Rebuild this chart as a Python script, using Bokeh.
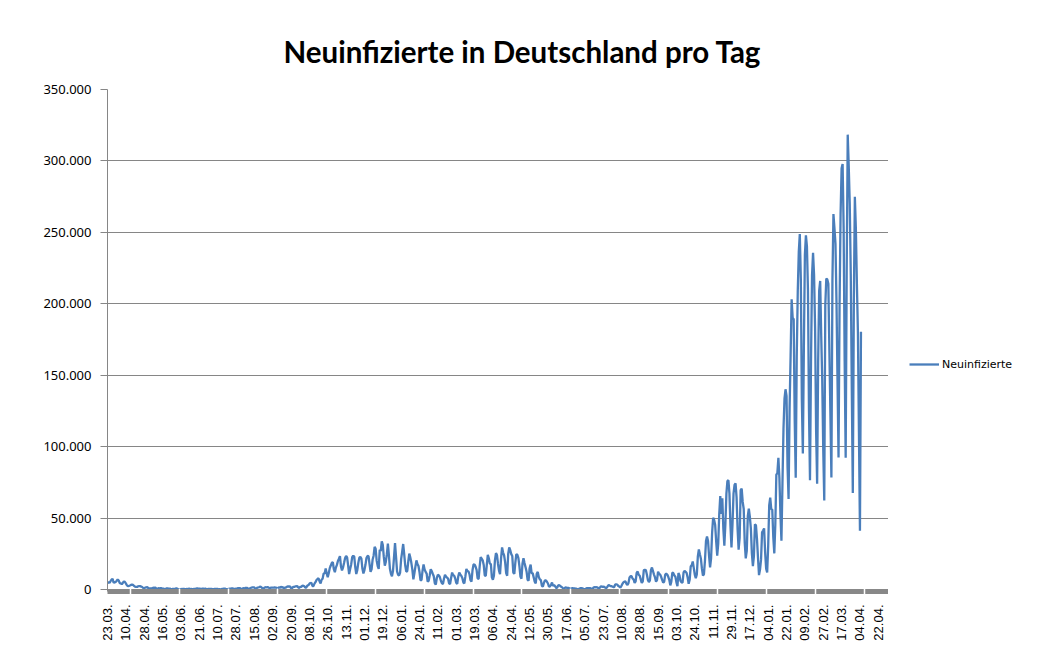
from math import pi
from bokeh.plotting import figure
from bokeh.layouts import row
from bokeh.models import Range1d, FixedTicker, Legend
from bokeh.embed import file_html
from bokeh.resources import INLINE

title_text = "Neuinfizierte in Deutschland pro Tag"
series_name = "Neuinfizierte"

x_labels = ["23.03.", "10.04.", "28.04.", "16.05.", "03.06.", "21.06.", "10.07.", "28.07.",
            "15.08.", "02.09.", "20.09.", "08.10.", "26.10.", "13.11.", "01.12.", "19.12.",
            "06.01.", "24.01.", "11.02.", "01.03.", "19.03.", "06.04.", "24.04.", "12.05.",
            "30.05.", "17.06.", "05.07.", "23.07.", "10.08.", "28.08.", "15.09.", "03.10.",
            "24.10.", "11.11.", "29.11.", "17.12.", "04.01.", "22.01.", "09.02.", "27.02.",
            "17.03.", "04.04.", "22.04."]
x_label_step = 18

y_ticks = [0, 50000, 100000, 150000, 200000, 250000, 300000, 350000]
y_tick_labels = ["0", "50.000", "100.000", "150.000", "200.000", "250.000", "300.000", "350.000"]

# 23.03.2020 - 27.12.2020 (one value per day, Monday first)
werte_2020 = [
    4500, 5200, 4600, 5800, 6900, 7500, 4700,
    5000, 5300, 6100, 7000, 6300, 4500, 4300,
    3700, 4600, 5600, 5300, 4300, 3000, 2300,
    2500, 2800, 3200, 3400, 3200, 2600, 2000,
    1775, 1785, 2237, 2352, 2337, 2055, 1737,
    1018, 1144, 1304, 1478, 1639, 945, 793,
    697, 685, 947, 1284, 1209, 1251, 667,
    357, 933, 798, 933, 913, 620, 583,
    342, 513, 797, 745, 460, 638, 431,
    289, 432, 362, 353, 741, 738, 286,
    333, 213, 342, 285, 394, 407, 301,
    214, 350, 318, 555, 301, 348, 247,
    192, 378, 345, 580, 770, 601, 687,
    537, 503, 587, 630, 477, 687, 256,
    262, 466, 503, 446, 422, 239,
    298, 397, 442, 395, 378, 159, 248,
    159, 352, 412, 534, 583, 395, 252,
    215, 454, 569, 569, 815, 781, 305,
    340, 633, 684, 902, 870, 955, 240,
    509, 879, 741, 1045, 1147, 1122, 555,
    436, 966, 1226, 1445, 1449, 1415, 625,
    561, 1390, 1510, 1707, 2034, 1427, 782,
    711, 1278, 1576, 1507, 1571, 1479, 610,
    1218, 1256, 1334, 1311, 1453, 1378, 988,
    814, 1499, 1176, 1892, 1484, 1630, 630,
    1336, 1407, 1901, 2194, 1916, 2297, 941,
    922, 1769, 1769, 2143, 2153, 2507, 1411,
    1192, 1798, 1798, 2503, 2673, 2292, 1382,
    1382, 2828, 2828, 4058, 4516, 4721, 2467,
    2467, 4122, 5132, 6638, 7334, 7830, 5587,
    4325, 6868, 7595, 11287, 11242, 14714, 11176,
    8685, 11409, 14964, 16774, 18681, 19059, 14177,
    12097, 15352, 17214, 19990, 21506, 23399, 16017,
    13363, 15332, 18487, 21866, 23542, 22461, 16947,
    10824, 14419, 17561, 22609, 23648, 22964, 15741,
    10864, 13554, 18633, 22268, 22806, 21695, 14611,
    11169, 13604, 17270, 22046, 23449, 23318, 17767,
    12332, 14054, 20815, 23679, 29875, 28438, 20200,
    16362, 14432, 27728, 26923, 33777, 31300, 22771,
    16643, 19528, 24740, 32195, 24000, 14455, 10976,
]

# 28.12.2020 - 02.01.2022
werte_2021 = [
    9194, 12892, 22459, 32552, 22924, 12690, 10315,
    9847, 11897, 21237, 26391, 31849, 24694, 16946,
    12497, 12802, 19600, 25164, 22368, 18678, 13882,
    7141, 11369, 15974, 20398, 17862, 16417, 12257,
    6408, 6729, 13202, 17553, 14022, 12321, 11192,
    5608, 6114, 9705, 14211, 12908, 11040, 9272,
    4535, 3379, 8072, 10237, 9860, 8616, 6114,
    4426, 3856, 7556, 10207, 9113, 8354, 7676,
    4369, 3883, 8007, 11869, 9997, 9762, 7890,
    4732, 3943, 9019, 11912, 10580, 9557, 8103,
    5011, 4252, 9146, 14356, 12834, 12674, 10790,
    6604, 5480, 13435, 17504, 17482, 16033, 13733,
    7709, 7485, 15813, 22657, 21573, 20472, 17176,
    9872, 9549, 17051, 24300, 21888, 18129, 17855,
    8497, 6885, 9677, 20407, 25464, 24097, 17855,
    13245, 10810, 21693, 29426, 25831, 23804, 19185,
    11437, 9609, 24884, 29518, 27543, 24736, 23392,
    11907, 10976, 18773, 24736, 24329, 21953, 16290,
    9160, 7534, 18034, 21953, 18485, 15685, 12656,
    6922, 6125, 14909, 17419, 11336, 11476, 8500,
    5412, 4209, 11040, 12298, 8769, 7082, 6714,
    2682, 1911, 4640, 6313, 6324, 5407, 4191,
    1978, 2209, 3300, 4917, 2440, 3165, 2294,
    1204, 1117, 2848, 3187, 2440, 1911, 1489,
    549, 652, 1455, 1330, 1108, 1076, 842,
    346, 592, 1016, 774, 813, 538, 592,
    219, 403, 649, 970, 892, 745, 428,
    212, 493, 970, 1000, 1010, 969, 745,
    546, 646, 1548, 1642, 1456, 1608, 1183,
    546, 1387, 2203, 1890, 2089, 1919, 1387,
    1009, 1545, 2768, 3142, 2454, 2400, 2097,
    1766, 1766, 3571, 3539, 3448, 2480, 2097,
    1183, 2480, 3912, 5000, 5578, 5644, 3912,
    3161, 4630, 8400, 9280, 9280, 7575, 7050,
    4634, 5747, 11561, 12626, 10303, 9620, 7050,
    4559, 5747, 13531, 13715, 13590, 10453, 6726,
    5196, 6325, 13565, 15431, 12969, 10453, 8416,
    5511, 6726, 12455, 11022, 10454, 8901, 6726,
    4799, 5511, 10454, 11022, 10454, 8901, 6726,
    2896, 5511, 11780, 11510, 9727, 8901, 5000,
    2392, 11547, 9766, 6000,
    4971, 4799, 11903, 12969, 12382, 11546, 8401,
    4056, 6771, 16077, 17015, 19572, 15145, 10453,
    8000, 10473, 23212, 28037, 24668, 21543, 14576,
    9658, 10813, 20398, 33949, 37120, 34002, 23543,
    15513, 21832, 39676, 50196, 48640, 45081, 33498,
    23607, 32048, 52826, 65371, 52970, 63924, 42727,
    30643, 45326, 66884, 75961, 76414, 67125, 44401,
    29364, 45753, 67186, 73209, 74352, 64510, 42055,
    27836, 36059, 69601, 70611, 61288, 56335, 32646,
    21743, 27060, 51301, 56677, 50968, 42770, 25255,
    16278, 23428, 45659, 44927, 35431, 22214, 10100,
    13908, 21080, 40043, 41240, 42770, 26000, 14500,
]

# 03.01.2022 - 05.04.2022
werte_2022 = [
    12000, 30561, 58912, 64340, 56335, 55889, 36552,
    25255, 45690, 80430, 81417, 92223, 78022, 52504,
    34145, 74405, 112323, 133536, 140160, 135461, 85440,
    63393, 126955, 164000, 203136, 190148, 189166, 118970,
    78318, 162613, 208498, 236120, 248838, 217815, 133173,
    95267, 169571, 234250, 247862, 240172, 209789, 125902,
    76465, 159217, 219972, 235626, 220048, 183143, 111222,
    74000, 158802, 209052, 216000, 178000, 147000, 98000,
    62349, 198888, 217593, 217000, 214000, 168000, 124000,
    78428, 216000, 262752, 252836, 242000, 201000, 146000,
    92378, 198000, 262593, 294931, 297845, 253000, 160000,
    92314, 222080, 318387, 296498, 270000, 220000, 140000,
    67501, 200000, 274901, 252530, 214000, 180000, 110000,
    41129, 180397,
]

neuinfizierte = werte_2020 + werte_2021 + werte_2022
x = list(range(len(neuinfizierte)))

GRID = "#868686"
LINE = "#4a7ebb"

p = figure(width=888, height=655, output_backend="svg", toolbar_location=None,
           x_range=Range1d(0, 766), y_range=Range1d(-1400, 350000),
           min_border_left=107, min_border_right=0, min_border_top=89, min_border_bottom=64,
           background_fill_color="white", border_fill_color="white")
p.outline_line_color = None

p.title.text = title_text
p.title.align = "left"
p.title.text_font = "Lato"
p.title.text_font_style = "bold"
p.title.text_font_size = "29.5px"
p.title.text_color = "#000000"
p.title.offset = 176
p.title.standoff = 41

r = p.line(x, neuinfizierte, line_color=LINE, line_width=2.3)

# x axis
label_pos = [i * x_label_step for i in range(len(x_labels))]
gap_pos = [22.5 + 48 * k for k in range(16)]
xax = p.xaxis[0]
xax.ticker = FixedTicker(ticks=label_pos, minor_ticks=gap_pos)
xax.major_label_overrides = {pos: lab for pos, lab in zip(label_pos, x_labels)}
xax.major_label_orientation = pi / 2
xax.axis_line_color = "#888888"
xax.axis_line_width = 5
xax.major_tick_line_color = None
xax.major_tick_in = 0
xax.major_tick_out = 0
xax.minor_tick_line_color = "white"
xax.minor_tick_line_width = 1.5
xax.minor_tick_in = 3
xax.minor_tick_out = 3
xax.major_label_standoff = 10
xax.major_label_text_font = "Liberation Sans"
xax.major_label_text_font_size = "13px"
xax.major_label_text_color = "#000000"

# y axis
yax = p.yaxis[0]
yax.ticker = FixedTicker(ticks=y_ticks)
yax.major_label_overrides = {t: lab for t, lab in zip(y_ticks, y_tick_labels)}
yax.axis_line_color = GRID
yax.major_tick_line_color = GRID
yax.major_tick_in = 0
yax.major_tick_out = 7
yax.minor_tick_line_color = None
yax.major_label_standoff = 9
yax.major_label_text_font = "Noto Sans"
yax.major_label_text_font_size = "13px"
yax.major_label_text_color = "#000000"

p.xgrid.grid_line_color = None
p.ygrid.ticker = yax.ticker
p.ygrid.grid_line_color = GRID
p.ygrid.grid_line_width = 1

# legend panel at the right (same series, drawn off-screen, shown only in the legend)
q = figure(width=140, height=655, output_backend="svg", toolbar_location=None,
           x_range=Range1d(0, 1), y_range=Range1d(-2, -1),
           min_border_left=0, min_border_right=0, min_border_top=89, min_border_bottom=64,
           background_fill_color="white", border_fill_color="white")
q.outline_line_color = None
q.axis.visible = False
q.grid.visible = False
r_leg = q.line(x, neuinfizierte, line_color=LINE, line_width=2.3)
legend = Legend(items=[(series_name, [r_leg])], location=(21, 219),
                border_line_color=None, background_fill_alpha=0,
                padding=0, margin=0, spacing=0,
                glyph_width=30, glyph_height=16, label_standoff=3,
                label_text_font="DejaVu Sans", label_text_font_size="11px",
                label_text_color="#000000")
q.add_layout(legend)

layout = row(p, q, spacing=0)
open("out.html", "w").write(file_html(layout, INLINE))
